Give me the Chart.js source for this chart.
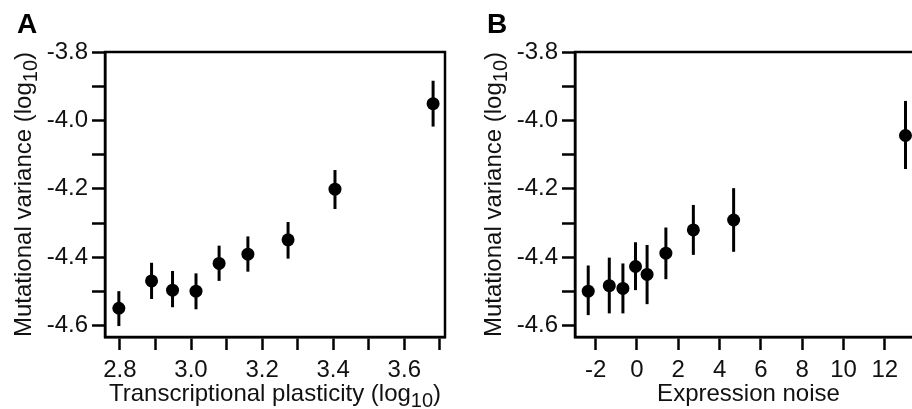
<!DOCTYPE html>
<html><head><meta charset="utf-8">
<script src="https://cdn.jsdelivr.net/npm/chart.js@4/dist/chart.umd.min.js"></script>
<style>
html,body{margin:0;padding:0;background:#fff;overflow:hidden;width:912px;height:409px;position:relative;}
#wa{position:absolute;left:0;top:0;width:460px;height:409px;}
#wb{position:absolute;left:470px;top:0;width:462px;height:409px;}
</style></head><body>
<div id="wa"><canvas id="ca"></canvas></div>
<div id="wb"><canvas id="cb"></canvas></div>
<script>
// Panel A: transcriptional plasticity (log10) vs mutational variance (log10)
const plasticityA = [2.797, 2.889, 2.948, 3.014, 3.079, 3.160, 3.273, 3.405, 3.681];
const mutVarA     = [-4.549, -4.469, -4.496, -4.499, -4.418, -4.391, -4.349, -4.201, -3.951];
const mutVarLowA  = [-4.601, -4.522, -4.546, -4.552, -4.469, -4.442, -4.404, -4.259, -4.018];
const mutVarHighA = [-4.499, -4.416, -4.440, -4.447, -4.366, -4.339, -4.297, -4.145, -3.884];

// Panel B: expression noise vs mutational variance (log10)
const noiseB      = [-2.36, -1.34, -0.68, -0.07, 0.49, 1.40, 2.73, 4.68, 13.0];
const mutVarB     = [-4.499, -4.483, -4.491, -4.427, -4.450, -4.388, -4.320, -4.291, -4.044];
const mutVarLowB  = [-4.569, -4.564, -4.564, -4.496, -4.537, -4.464, -4.393, -4.384, -4.142];
const mutVarHighB = [-4.424, -4.401, -4.418, -4.356, -4.364, -4.313, -4.247, -4.198, -3.943];

// Tick values and labels
const yTickValues = [-4.6, -4.5, -4.4, -4.3, -4.2, -4.1, -4.0, -3.9, -3.8];
const yTickLabels = ['-4.6', '', '-4.4', '', '-4.2', '', '-4.0', '', '-3.8'];
const xTickValuesA = [2.8, 2.9, 3.0, 3.1, 3.2, 3.3, 3.4, 3.5, 3.6, 3.7];
const xTickLabelsA = ['2.8', '', '3.0', '', '3.2', '', '3.4', '', '3.6', ''];
const xTickValuesB = [-2, 0, 2, 4, 6, 8, 10, 12];
const xTickLabelsB = ['-2', '0', '2', '4', '6', '8', '10', '12'];

// Axis titles: [text, subscript, text]
const yTitleParts  = ['Mutational variance (log', '10', ')'];
const xTitlePartsA = ['Transcriptional plasticity (log', '10', ')'];
const xTitlePartsB = ['Expression noise', '', ''];

const FONT = "'Liberation Sans', Arial, Helvetica, sans-serif";
Chart.defaults.font.family = FONT;
Chart.defaults.color = '#111';

const framePlugin = {
  id: 'frame',
  afterDraw(chart) {
    const {ctx, chartArea: a} = chart;
    ctx.save();
    ctx.strokeStyle = '#000';
    ctx.lineWidth = 2.5;
    ctx.strokeRect(a.left, a.top, a.right - a.left, a.bottom - a.top);
    ctx.restore();
  }
};

const errorBarPlugin = {
  id: 'errbars',
  beforeDatasetsDraw(chart) {
    const {ctx, scales} = chart;
    ctx.save();
    ctx.strokeStyle = '#000';
    ctx.lineWidth = 3;
    ctx.lineCap = 'butt';
    chart.data.datasets.forEach(ds => {
      if (!ds.errLow) return;
      ds.data.forEach((p, i) => {
        const px = scales.x.getPixelForValue(p.x);
        const y1 = scales.y.getPixelForValue(ds.errLow[i]);
        const y2 = scales.y.getPixelForValue(ds.errHigh[i]);
        ctx.beginPath();
        ctx.moveTo(px, y1);
        ctx.lineTo(px, y2);
        ctx.stroke();
      });
    });
    ctx.restore();
  }
};

// draws the text of a title with a real subscript, centred at (cx, cy)
function drawSubTitle(ctx, parts, cx, cy, rot) {
  const main = '24px ' + FONT, sub = '20px ' + FONT;
  ctx.save();
  ctx.font = main; const w0 = ctx.measureText(parts[0]).width;
  const w2 = ctx.measureText(parts[2]).width;
  ctx.font = sub; const w1 = parts[1] ? ctx.measureText(parts[1]).width : 0;
  const total = w0 + w1 + w2;
  ctx.translate(cx, cy);
  ctx.rotate(rot);
  ctx.fillStyle = '#111';
  ctx.textBaseline = 'middle';
  ctx.textAlign = 'left';
  let x = -total / 2;
  ctx.font = main; ctx.fillText(parts[0], x, 0); x += w0;
  if (parts[1]) { ctx.font = sub; ctx.fillText(parts[1], x, 7); x += w1; }
  ctx.font = main; ctx.fillText(parts[2], x, 0);
  ctx.restore();
}

const titlesPlugin = {
  id: 'subTitles',
  afterDraw(chart, args, opts) {
    const {ctx, chartArea: a} = chart;
    ctx.save();
    ctx.fillStyle = '#000';
    ctx.font = "bold 28px " + FONT;
    ctx.textAlign = 'left';
    ctx.textBaseline = 'alphabetic';
    ctx.fillText(opts.letter, a.left - 88, a.top - 19);
    ctx.restore();
    drawSubTitle(ctx, opts.x, (a.left + a.right) / 2, a.bottom + 57, 0);
    drawSubTitle(ctx, opts.y, a.left - 81, (a.top + a.bottom) / 2, -Math.PI / 2);
  }
};

function makeChart(id, xs, ys, lo, hi, xMin, xMax, xTicks, xLabels, xTitle, letter, padRight) {
  const pts = xs.map((x, i) => ({x: x, y: ys[i]}));
  return new Chart(document.getElementById(id), {
    type: 'scatter',
    data: {
      datasets: [{
        data: pts,
        errLow: lo,
        errHigh: hi,
        pointRadius: 6.5,
        pointHoverRadius: 6.5,
        pointBackgroundColor: '#000',
        pointBorderWidth: 0,
        showLine: false
      }]
    },
    options: {
      responsive: true,
      maintainAspectRatio: false,
      animation: false,
      layout: {padding: {top: 52, right: padRight, left: 0, bottom: 0}},
      plugins: {
        legend: {display: false},
        tooltip: {enabled: false},
        subTitles: {letter: letter, x: xTitle, y: yTitleParts}
      },
      scales: {
        x: {
          type: 'linear',
          min: xMin,
          max: xMax,
          afterBuildTicks: s => { s.ticks = xTicks.map(v => ({value: v})); },
          afterFit: s => { s.height = 72; },
          ticks: {
            autoSkip: false, maxRotation: 0, padding: 6,
            font: {size: 24},
            callback: (v, i) => xLabels[i]
          },
          grid: {drawOnChartArea: false, drawTicks: true, tickLength: 13, tickWidth: 2.5, tickColor: '#000'},
          border: {display: true, width: 2.5, color: '#000'}
        },
        y: {
          type: 'linear',
          min: -4.633,
          max: -3.8,
          afterBuildTicks: s => { s.ticks = yTickValues.map(v => ({value: v})); },
          afterFit: s => { s.width = 105; },
          ticks: {
            autoSkip: false, padding: 4,
            font: {size: 24},
            callback: (v, i) => yTickLabels[i]
          },
          grid: {drawOnChartArea: false, drawTicks: true, tickLength: 13, tickWidth: 2.5, tickColor: '#000'},
          border: {display: true, width: 2.5, color: '#000'}
        }
      }
    },
    plugins: [errorBarPlugin, framePlugin, titlesPlugin]
  });
}

makeChart('ca', plasticityA, mutVarA, mutVarLowA, mutVarHighA, 2.758, 3.7145,
  xTickValuesA, xTickLabelsA, xTitlePartsA, 'A', 15);
makeChart('cb', noiseB, mutVarB, mutVarLowB, mutVarHighB, -3.0, 13.8,
  xTickValuesB, xTickLabelsB, xTitlePartsB, 'B', 10);
</script>
</body></html>
